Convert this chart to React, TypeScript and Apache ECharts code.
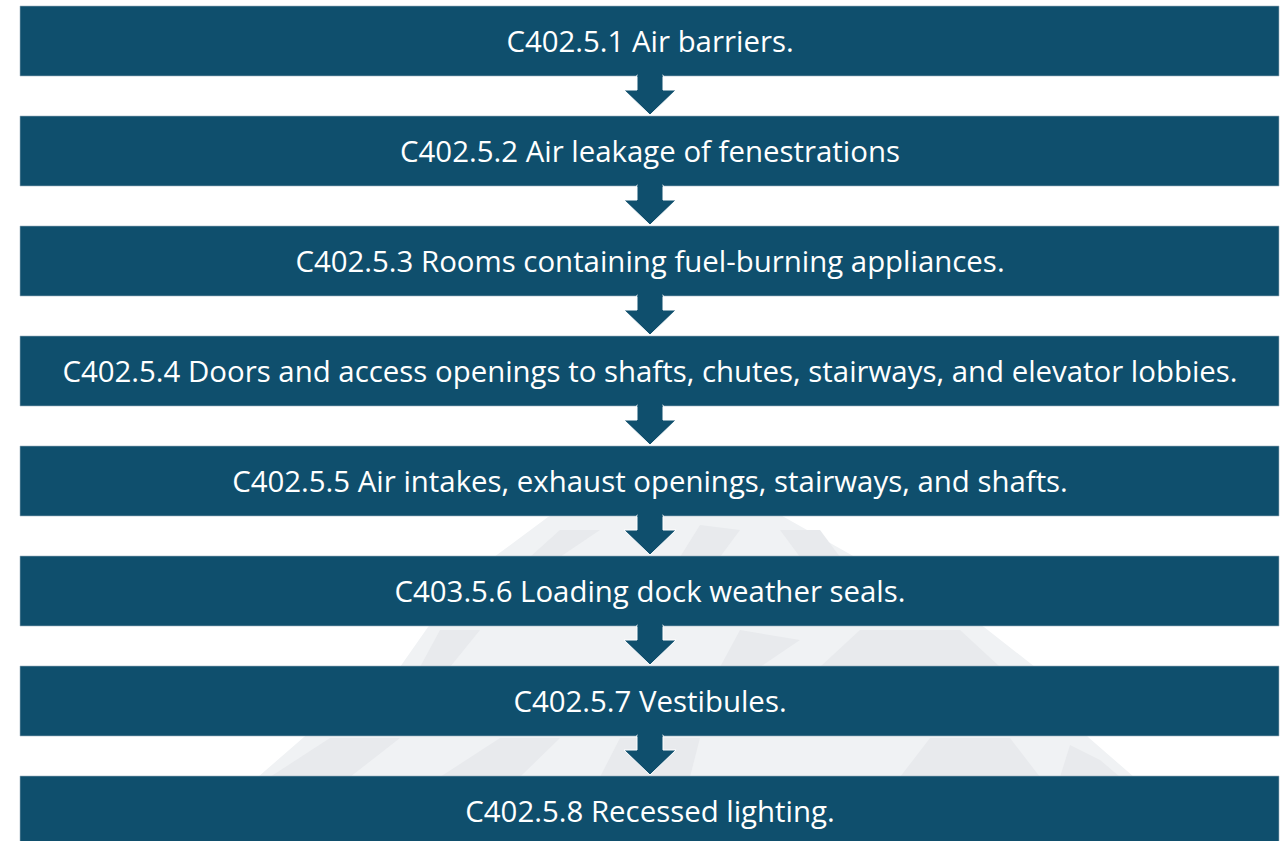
import React, { useEffect, useRef } from "react";
import * as echarts from "echarts";

const steps: string[] = [
  "C402.5.1 Air barriers.",
  "C402.5.2 Air leakage of fenestrations",
  "C402.5.3 Rooms containing fuel-burning appliances.",
  "C402.5.4 Doors and access openings to shafts, chutes, stairways, and elevator lobbies.",
  "C402.5.5 Air intakes, exhaust openings, stairways, and shafts.",
  "C403.5.6 Loading dock weather seals.",
  "C402.5.7 Vestibules.",
  "C402.5.8 Recessed lighting.",
];

const BOX = "#0F4F6D";

export default function App() {
  const ref = useRef<HTMLDivElement>(null);
  useEffect(() => {
    if (!ref.current) return;
    const chart = echarts.init(ref.current, null, { renderer: "svg" });
    const left = 20;
    const right = 1279;
    const top0 = 6;
    const boxH = 70;
    const pitch = 110;
    const cx = 650;
    const elements: any[] = [];
    // faint mountain background
    elements.push({
      type: "polygon",
      shape: {
        points: [
          [258, 790], [258, 777], [304, 737], [400, 667], [428, 627], [494, 557],
          [548, 517], [640, 470], [720, 480], [784, 517], [855, 557], [984, 627],
          [1035, 667], [1088, 737], [1134, 777], [1134, 790],
        ],
      },
      style: { fill: "#f0f2f4" },
      z: 0,
    });
    const patches: number[][][] = [
      [[270, 777], [330, 738], [400, 738], [350, 777]],
      [[440, 777], [500, 738], [560, 738], [520, 777]],
      [[600, 777], [620, 738], [700, 738], [690, 777]],
      [[900, 777], [930, 738], [1010, 738], [1040, 777]],
      [[1060, 777], [1070, 745], [1100, 760], [1120, 777]],
      [[420, 667], [440, 630], [480, 630], [450, 667]],
      [[720, 667], [740, 630], [800, 640], [760, 667]],
      [[820, 667], [860, 630], [960, 630], [1000, 667]],
      [[530, 557], [560, 530], [600, 530], [560, 557]],
      [[680, 557], [700, 525], [740, 530], [720, 557]],
      [[780, 530], [820, 530], [840, 557], [800, 557]],
    ];
    patches.forEach((pts) =>
      elements.push({
        type: "polygon",
        shape: { points: pts },
        style: { fill: "#e8eaed" },
        z: 1,
      })
    );
    steps.forEach((label, i) => {
      const y = top0 + i * pitch;
      const h = i === steps.length - 1 ? 841 - y + 10 : boxH;
      elements.push({
        type: "rect",
        shape: { x: left, y, width: right - left, height: h },
        style: { fill: BOX, stroke: "#9fb4c0", lineWidth: 0.6 },
        z: 2,
      });
      elements.push({
        type: "text",
        x: cx,
        y: y + boxH / 2 - 0.5,
        style: {
          text: label,
          fill: "#ffffff",
          font: "29.4px 'Open Sans'",
          align: "center",
          verticalAlign: "middle",
        },
        z: 4,
      });
      if (i < steps.length - 1) {
        const b = y + boxH;
        const nextTop = top0 + (i + 1) * pitch;
        elements.push({
          type: "polygon",
          shape: {
            points: [
              [cx - 13, b - 1],
              [cx + 13, b - 1],
              [cx + 13, b + 14],
              [cx + 26, b + 14],
              [cx, nextTop - 1],
              [cx - 26, b + 14],
              [cx - 13, b + 14],
            ],
          },
          style: { fill: BOX, stroke: "#ffffff", lineWidth: 1 },
          z: 3,
        });
        elements.push({
          type: "rect",
          shape: { x: cx - 12.5, y: b - 2, width: 25, height: 3 },
          style: { fill: BOX },
          z: 3,
        });
      }
    });
    chart.setOption({
      animation: false,
      backgroundColor: "#ffffff",
      graphic: { elements },
    });
    return () => chart.dispose();
  }, []);
  return (
    <div
      ref={ref}
      style={{ position: "fixed", left: 0, top: 0, width: 1281, height: 841 }}
    />
  );
}
